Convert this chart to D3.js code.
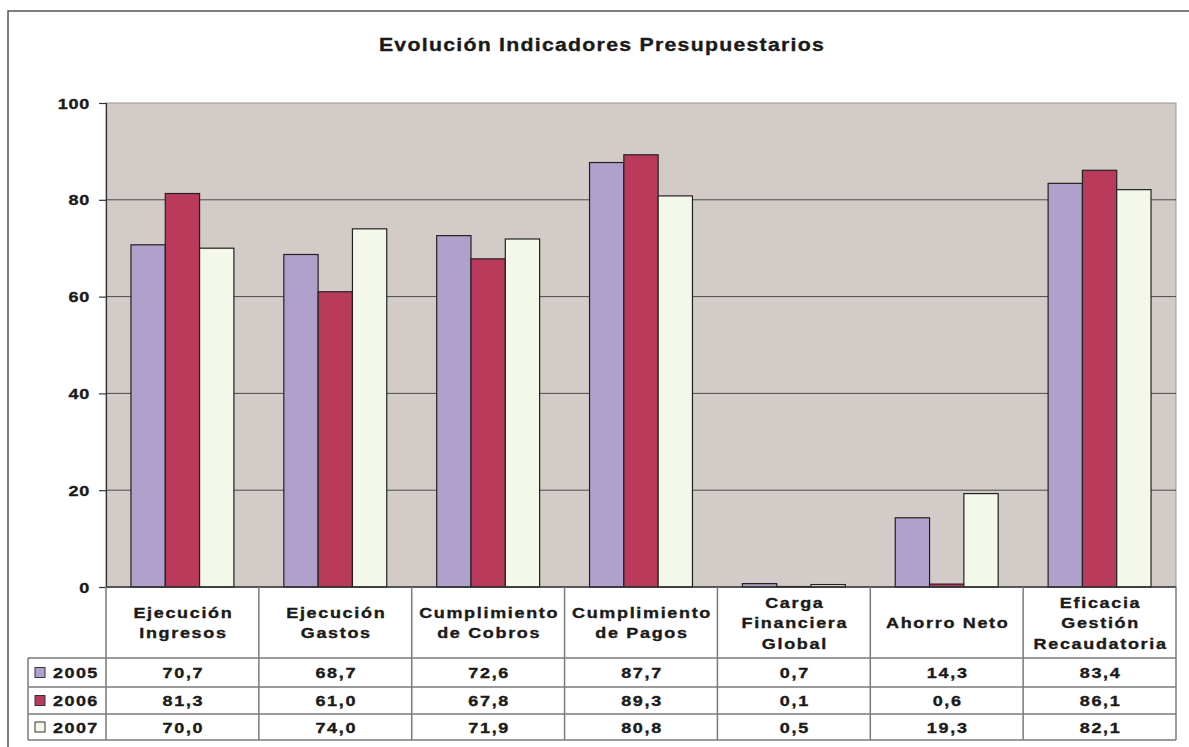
<!DOCTYPE html>
<html><head><meta charset="utf-8">
<script src="https://cdn.jsdelivr.net/npm/d3@7"></script>
<style>
html,body{margin:0;padding:0;background:#fff;}
svg text{font-family:"Liberation Sans",Arial,sans-serif;font-weight:bold;fill:#1a1a1a;stroke:#1a1a1a;stroke-width:0.35px;}
</style></head>
<body>
<svg id="c" width="1189" height="747"></svg>
<script>
const title = "Evolución Indicadores Presupuestarios";
const categories = [
  ["Ejecución","Ingresos"],
  ["Ejecución","Gastos"],
  ["Cumplimiento","de Cobros"],
  ["Cumplimiento","de Pagos"],
  ["Carga","Financiera","Global"],
  ["Ahorro Neto"],
  ["Eficacia","Gestión","Recaudatoria"]
];
const seriesNames = ["2005","2006","2007"];
const values2005 = [70.7, 68.7, 72.6, 87.7, 0.7, 14.3, 83.4];
const values2006 = [81.3, 61.0, 67.8, 89.3, 0.1, 0.6, 86.1];
const values2007 = [70.0, 74.0, 71.9, 80.8, 0.5, 19.3, 82.1];
const yTicks = [0, 20, 40, 60, 80, 100];
const colors = ["#B0A0CC", "#B93A5A", "#F4F8EA"];

const series = [values2005, values2006, values2007];
const catKeys = categories.map((c, i) => i);

const svg = d3.select("#c");
const L = 106, R = 1176, T = 103, B = 587;
const rowLines = [658, 687, 714, 740];
const legendLeft = 28;
const SX = 1.2;

// stretched text helper
function label(x, yb, str, anchor, size, spacing, sx) {
  const gg = svg.append("g").attr("transform", `translate(${x},${yb}) scale(${sx || SX},1)`);
  return gg.append("text").attr("x", 0).attr("y", 0).attr("text-anchor", anchor)
    .style("font-size", size + "px").style("letter-spacing", spacing + "px").text(str);
}

// outer frame
svg.append("path").attr("d", "M8,747V11H1189").attr("fill", "none")
  .attr("stroke", "#555").attr("stroke-width", 1.5);

// title
label(602, 51, title, "middle", 18.5, 1.1, 1.15);

const y = d3.scaleLinear().domain([0, 100]).range([B, T]);
const x0 = d3.scaleBand().domain(catKeys).range([L, R]).padding(0);
const x1 = d3.scaleBand().domain(seriesNames).range([0, x0.bandwidth()])
  .paddingInner(0).paddingOuter(0.728);

// plot area
svg.append("rect").attr("x", L).attr("y", T).attr("width", R - L).attr("height", B - T)
  .attr("fill", "#D3CBC8").attr("stroke", "#9E9696").attr("stroke-width", 1);

// gridlines
svg.append("g").selectAll("line").data(yTicks.filter(t => t > 0 && t < 100)).join("line")
  .attr("x1", L).attr("x2", R).attr("y1", d => y(d)).attr("y2", d => y(d))
  .attr("stroke", "#4a4a4a").attr("stroke-width", 1);

// bars
const g = svg.append("g");
catKeys.forEach(ci => {
  seriesNames.forEach((s, si) => {
    const v = series[si][ci];
    g.append("rect")
      .attr("x", x0(ci) + x1(s))
      .attr("y", y(v))
      .attr("width", x1.bandwidth())
      .attr("height", B - y(v))
      .attr("fill", colors[si])
      .attr("stroke", "#222").attr("stroke-width", 1.2);
  });
});

// y axis (lines via d3 axis, labels stretched)
const yAxis = d3.axisLeft(y).tickValues(yTicks).tickSize(7).tickFormat("");
const ya = svg.append("g").attr("transform", `translate(${L},0)`).call(yAxis);
ya.select(".domain").attr("stroke", "#333").attr("stroke-width", 1.2);
ya.selectAll(".tick line").attr("stroke", "#333").attr("stroke-width", 1.2);
yTicks.forEach(t => {
  label(90, y(t) + 5.5, String(t), "end", 15, 0.6);
});

// x axis line
svg.append("line").attr("x1", L).attr("x2", R).attr("y1", B).attr("y2", B)
  .attr("stroke", "#333").attr("stroke-width", 1.5);

// table grid
const tg = svg.append("g").attr("stroke", "#7a7a7a").attr("stroke-width", 1.5);
rowLines.forEach(ry => {
  tg.append("line").attr("x1", legendLeft).attr("x2", R).attr("y1", ry).attr("y2", ry);
});
tg.append("line").attr("x1", legendLeft).attr("x2", legendLeft).attr("y1", rowLines[0]).attr("y2", rowLines[3]);
const bounds = catKeys.map(ci => x0(ci)).concat([R]);
bounds.forEach(bx => {
  tg.append("line").attr("x1", bx).attr("x2", bx).attr("y1", B).attr("y2", rowLines[3]);
});

// header labels
const lineH = 20.5;
categories.forEach((lines, ci) => {
  const cx = x0(ci) + x0.bandwidth() / 2 + 1;
  const mid = 622.5;
  const start = mid - (lines.length - 1) * lineH / 2 + 5.5;
  lines.forEach((ln, li) => {
    label(cx, start + li * lineH, ln, "middle", 15, 1.4);
  });
});

// value rows
const fmt = v => v.toFixed(1).replace(".", ",");
seriesNames.forEach((s, si) => {
  const ry0 = rowLines[si], ry1 = rowLines[si + 1];
  const cyr = (ry0 + ry1) / 2 + 5.5;
  svg.append("rect").attr("x", 35).attr("y", (ry0 + ry1) / 2 - 5).attr("width", 10).attr("height", 10)
    .attr("fill", colors[si]).attr("stroke", "#333").attr("stroke-width", 1);
  label(53, cyr, s, "start", 15, 1.2);
  series[si].forEach((v, ci) => {
    label(x0(ci) + x0.bandwidth() / 2 + 1, cyr, fmt(v), "middle", 15, 1.4);
  });
});
</script>
</body></html>
